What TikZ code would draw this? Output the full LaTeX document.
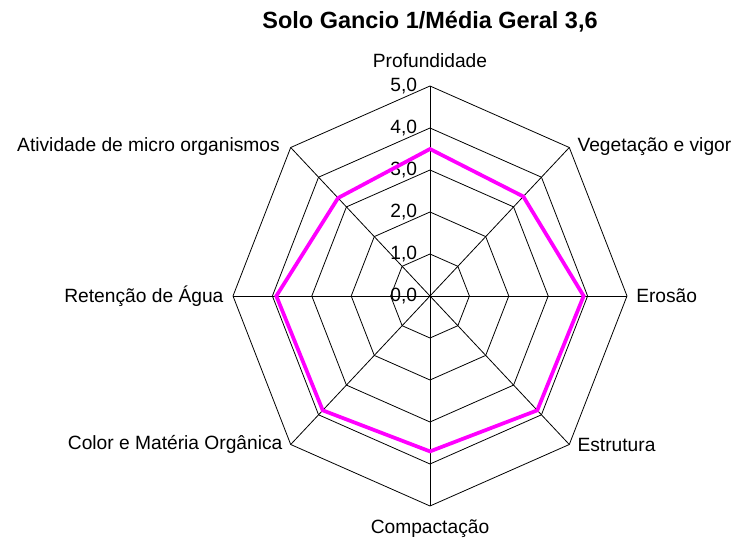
\documentclass[tikz,border=0pt]{standalone}
\usepackage{fontspec}
\setmainfont{Liberation Sans}
\usepackage{tikz}
\usetikzlibrary{positioning}
\definecolor{rosa}{RGB}{255,0,255}
\tikzstyle{grade} = [draw=black, line width=0.6pt]
\tikzstyle{rotulo} = [inner sep=0pt,
font=\fontsize{14.4}{16}\selectfont]
\tikzstyle{valor} = [inner sep=0pt,
font=\fontsize{14.4}{16}\selectfont]
\tikzstyle{titulo} = [inner sep=0pt,
font=\fontsize{17.6}{20}\bfseries\selectfont]
\tikzstyle{serie} = [draw=rosa, line width=2.8pt, line join=miter]

\begin{document}
\begin{tikzpicture}[x=29.55pt, y=31.5pt]
				\useasboundingbox (-322.5pt,-182.25pt) rectangle (228.75pt,222pt);

				\coordinate (centro) at (0,0);
				\coordinate (prof-5) at (90:5);
				\coordinate (veg-5) at (45:5);
				\coordinate (ero-5) at (0:5);
				\coordinate (est-5) at (-45:5);
				\coordinate (comp-5) at (-90:5);
				\coordinate (cor-5) at (-135:5);
				\coordinate (ret-5) at (180:5);
				\coordinate (ativ-5) at (135:5);

				\foreach \r in {1,...,5}
					\draw[grade] (90:\r) -- (45:\r) -- (0:\r) -- (-45:\r) -- (-90:\r) -- (-135:\r) -- (180:\r) -- (135:\r) -- cycle;

				\draw[grade] (centro) -- (prof-5);
				\draw[grade] (centro) -- (veg-5);
				\draw[grade] (centro) -- (ero-5);
				\draw[grade] (centro) -- (est-5);
				\draw[grade] (centro) -- (comp-5);
				\draw[grade] (centro) -- (cor-5);
				\draw[grade] (centro) -- (ret-5);
				\draw[grade] (centro) -- (ativ-5);

				\foreach \r in {0,...,5}
					\node[valor, anchor=east] (v-\r) at ([xshift=-9.5pt]0,\r) {\r,0};

				\draw[serie] (90:3.5) -- (45:3.35) -- (0:3.9) -- (-45:3.85) -- (-90:3.7) -- (-135:3.85) -- (180:3.9) -- (135:3.3) -- cycle;

				\node[rotulo, above=13.5pt of prof-5] (prof) {Profundidade};
				\node[rotulo, anchor=west] (veg) at ([xshift=6pt,yshift=1pt]veg-5) {Vegetação e vigor};
				\node[rotulo, right=6.75pt of ero-5] (ero) {Erosão};
				\node[rotulo, anchor=west] (est) at ([xshift=6pt,yshift=0pt]est-5) {Estrutura};
				\node[rotulo, below=10pt of comp-5] (comp) {Compactação};
				\node[rotulo, anchor=east] (cor) at ([xshift=-6pt,yshift=0pt]cor-5) {Color e Matéria Orgânica};
				\node[rotulo, left=7pt of ret-5] (ret) {Retenção de Água};
				\node[rotulo, anchor=east] (ativ) at ([xshift=-8pt,yshift=1pt]ativ-5) {Atividade de micro organismos};

				\node[titulo] (tit) at (0,205.5pt) {Solo Gancio 1/Média Geral 3,6};
			\end{tikzpicture}
\end{document}
